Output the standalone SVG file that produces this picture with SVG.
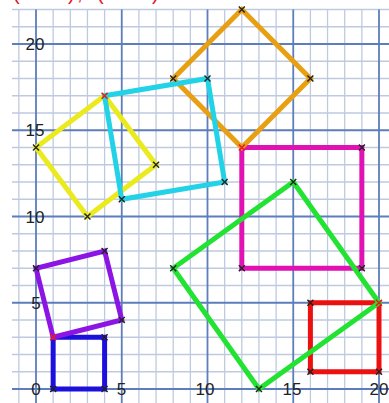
<svg xmlns="http://www.w3.org/2000/svg" width="389" height="403" viewBox="0 0 389 403">
<style>
.minor{stroke:#bfcae0;stroke-width:1.3}
.major{stroke:#5d7dbb;stroke-width:1.8}
.sq{fill:none;stroke-width:5;stroke-linejoin:miter}
.lbl{font-family:"Liberation Sans",Arial,sans-serif;font-size:17px;fill:#222;text-anchor:middle}
.mk{fill:none;stroke:#222;stroke-width:1.4}
.mkr{fill:none;stroke:#e61e1e;stroke-width:1.6}
</style>
<defs>
<path id="x" d="M-3,-3L3,3M-3,3L3,-3"/>
</defs>
<rect width="389" height="403" fill="#fff"/>
<g id="grid">
<g class="minor">
<path d="M18.85,9.5V403M53.15,9.5V403M70.3,9.5V403M87.45,9.5V403M104.6,9.5V403M138.9,9.5V403M156.05,9.5V403M173.2,9.5V403M190.35,9.5V403M224.65,9.5V403M241.8,9.5V403M258.95,9.5V403M276.1,9.5V403M310.4,9.5V403M327.55,9.5V403M344.7,9.5V403M361.85,9.5V403"/>
<path d="M12,9.5H389M12,26.75H389M12,61.25H389M12,78.5H389M12,95.75H389M12,113H389M12,147.5H389M12,164.75H389M12,182H389M12,199.25H389M12,233.75H389M12,251H389M12,268.25H389M12,285.5H389M12,320H389M12,337.25H389M12,354.5H389M12,371.75H389"/>
</g>
<g class="major">
<path d="M36,9.5V403M121.75,9.5V403M207.5,9.5V403M293.25,9.5V403M379,9.5V403"/>
<path d="M12,44H389M12,130.25H389M12,216.5H389M12,302.75H389M12,389H389"/>
</g>
</g>
<g id="labels" class="lbl">
<text x="35" y="50">20</text>
<text x="35" y="136.3">15</text>
<text x="35" y="222.5">10</text>
<text x="36" y="308.8">5</text>
<text x="36" y="395">0</text>
<text x="121.5" y="395">5</text>
<text x="205" y="395">10</text>
<text x="292" y="395">15</text>
<text x="379" y="395">20</text>
</g>
<text id="title" y="0" font-family="Liberation Sans,Arial,sans-serif" font-size="20" fill="#e8161c"><tspan x="13">(</tspan><tspan x="68">)</tspan><tspan x="77">,</tspan><tspan x="97">(</tspan><tspan x="152">)</tspan></text>
<g id="connectors">
<polygon id="blue" class="sq" stroke="#1c10dc" points="53.15,389 104.6,389 104.6,337.25 53.15,337.25"/>
<polygon id="purple" class="sq" stroke="#8c14e4" points="53.15,337.25 121.75,320 104.6,251 36,268.25"/>
<polygon id="yellow" class="sq" stroke="#eaea1c" points="36,147.5 104.6,95.75 156.05,164.75 87.45,216.5"/>
<polygon id="magenta" class="sq" stroke="#e012b4" points="241.8,147.5 361.85,147.5 361.85,268.25 241.8,268.25"/>
<polygon id="orange" class="sq" stroke="#e8a012" points="241.8,9.5 310.4,78.5 241.8,147.5 173.2,78.5"/>
<polygon id="cyan" class="sq" stroke="#22d2e6" points="104.6,95.75 207.5,78.5 224.65,182 121.75,199.25"/>
<polygon id="red" class="sq" stroke="#ec1010" points="310.4,302.75 379,302.75 379,371.75 310.4,371.75"/>
<polygon id="green" class="sq" stroke="#22e232" points="293.25,182 379,302.75 258.95,389 173.2,268.25"/>
</g>
<g id="marks">
<g class="mk">
<use href="#x" x="104.6" y="389"/><use href="#x" x="53.15" y="389"/><use href="#x" x="104.6" y="337.25"/>
<use href="#x" x="121.75" y="320"/><use href="#x" x="104.6" y="251"/><use href="#x" x="36" y="268.25"/>
<use href="#x" x="36" y="147.5"/><use href="#x" x="156.05" y="164.75"/><use href="#x" x="87.45" y="216.5"/>
<use href="#x" x="361.85" y="147.5"/><use href="#x" x="361.85" y="268.25"/><use href="#x" x="241.8" y="268.25"/>
<use href="#x" x="241.8" y="9.5"/><use href="#x" x="310.4" y="78.5"/><use href="#x" x="173.2" y="78.5"/>
<use href="#x" x="207.5" y="78.5"/><use href="#x" x="224.65" y="182"/><use href="#x" x="121.75" y="199.25"/>
<use href="#x" x="310.4" y="302.75"/><use href="#x" x="379" y="371.75"/><use href="#x" x="310.4" y="371.75"/>
<use href="#x" x="293.25" y="182"/><use href="#x" x="258.95" y="389"/><use href="#x" x="173.2" y="268.25"/>
</g>
<g class="mkr">
<use href="#x" x="104.6" y="95.75"/><use href="#x" x="53.15" y="337.25"/><use href="#x" x="241.8" y="147.5"/><use href="#x" x="379" y="302.75"/>
</g>
</g>
</svg>
